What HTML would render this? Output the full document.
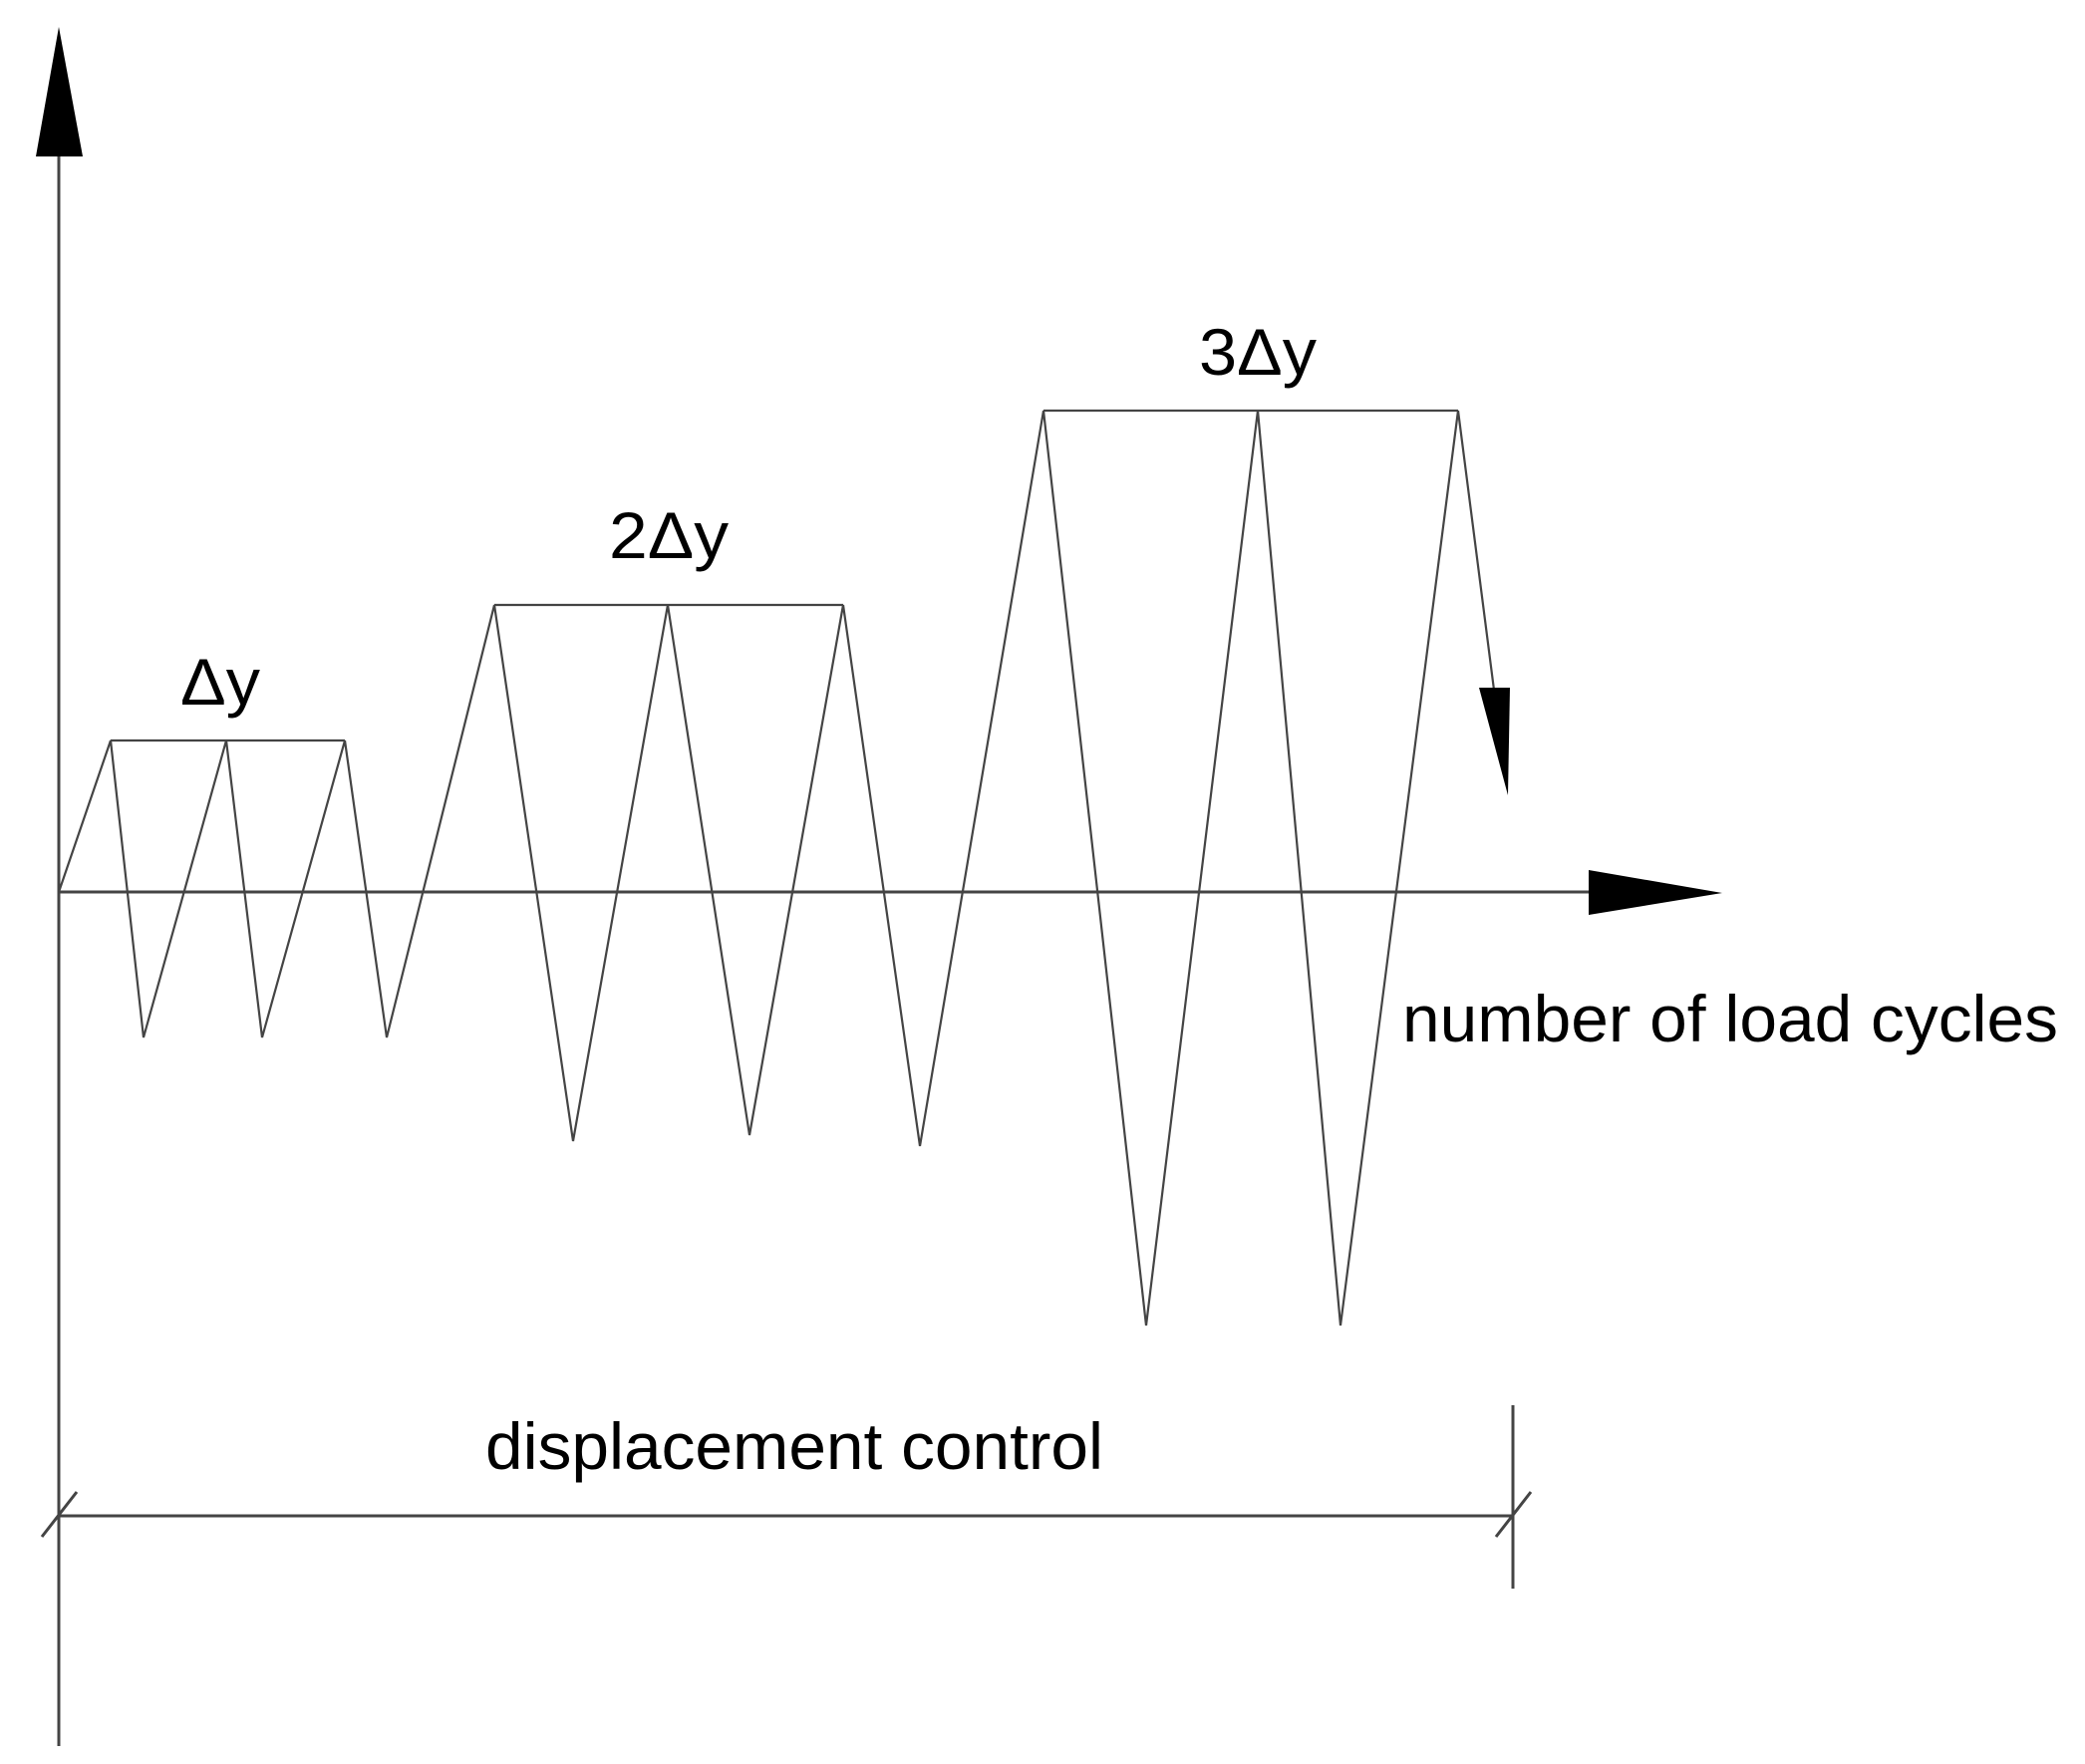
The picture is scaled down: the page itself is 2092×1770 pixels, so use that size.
<!DOCTYPE html>
<html><head><meta charset="utf-8"><style>html,body{margin:0;padding:0;background:#fff}svg{display:block}</style></head>
<body>
<svg width="2092" height="1770" viewBox="0 0 2092 1770" xmlns="http://www.w3.org/2000/svg">
<g stroke="#444" stroke-width="3" fill="none">
<line x1="59" y1="150" x2="59" y2="1752"/>
<line x1="59" y1="895" x2="1600" y2="895"/>
<polyline stroke-width="2.2" points="59,895 111,743 144,1041 227,743 263,1041 346,743 388,1041 496,607 575,1145 670,607 752,1139 846,607 923,1150 1047,412 1150,1330 1262,412 1345,1330 1463,412 1500,700"/>
<line stroke-width="2.2" x1="111" y1="743" x2="346" y2="743"/>
<line stroke-width="2.2" x1="496" y1="607" x2="846" y2="607"/>
<line stroke-width="2.2" x1="1047" y1="412" x2="1463" y2="412"/>
<line x1="59" y1="1521" x2="1518" y2="1521"/>
<line x1="1518" y1="1410" x2="1518" y2="1594"/>
<line x1="42" y1="1542" x2="77" y2="1497"/>
<line x1="1501" y1="1542" x2="1536" y2="1497"/>
</g>
<g fill="#000">
<polygon points="59,27 36,157 83,157"/>
<polygon points="1728,896 1594,873 1594,918"/>
<polygon points="1513,798 1484,690 1515,690"/>
</g>
<g font-family="Liberation Sans, Arial, sans-serif" font-size="66" fill="#000">
<text x="181" y="707" textLength="80" lengthAdjust="spacingAndGlyphs">Δy</text>
<text x="611" y="560" textLength="120" lengthAdjust="spacingAndGlyphs">2Δy</text>
<text x="1203" y="376" textLength="118" lengthAdjust="spacingAndGlyphs">3Δy</text>
<text x="1407" y="1045" textLength="658" lengthAdjust="spacingAndGlyphs">number of load cycles</text>
<text x="487" y="1474" textLength="620" lengthAdjust="spacingAndGlyphs">displacement control</text>
</g>
</svg>
</body></html>
